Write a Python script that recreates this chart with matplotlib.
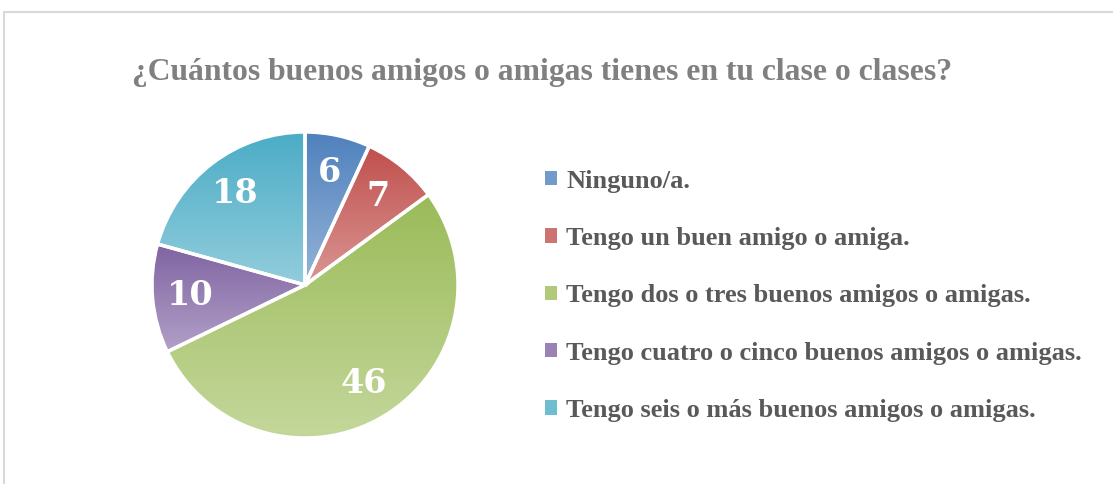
import numpy as np
import matplotlib
matplotlib.use('Agg')
import matplotlib.pyplot as plt
from matplotlib.patches import Patch, Rectangle
from matplotlib.colors import to_rgb

title = '¿Cuántos buenos amigos o amigas tienes en tu clase o clases?'
categories = ['Ninguno/a.',
              'Tengo un buen amigo o amiga.',
              'Tengo dos o tres buenos amigos o amigas.',
              'Tengo cuatro o cinco buenos amigos o amigas.',
              'Tengo seis o más buenos amigos o amigas.']
values = [6, 7, 46, 10, 18]

# gradient colours: top (dark) -> bottom (light)
top_colors = ['#4f81bd', '#c0504d', '#9bbb59', '#8064a2', '#4bacc6']
bottom_colors = ['#95b3d7', '#da9694', '#c4d79b', '#b1a0c7', '#92cddc']

fig = plt.figure(figsize=(11.13, 4.84), dpi=100)

# chart frame
fig.patches.append(Rectangle((4 / 1113, -0.1), 1.2, 1 - 12 / 484 + 0.1,
                             transform=fig.transFigure, fill=False,
                             edgecolor='#d9d9d9', linewidth=1.5))

fig.text(0.4874, 0.851, title, ha='center', va='center', fontsize=22.8,
         fontweight='bold', color='#808080', family='Liberation Serif')

r_px = 155
ax = fig.add_axes([(305 - r_px) / 1113, (199 - r_px) / 484, 2 * r_px / 1113, 2 * r_px / 484])
total = sum(values)
wedges, texts, autotexts = ax.pie(
    values, startangle=90, counterclock=False, radius=1,
    autopct=lambda p: f'{p * total / 100:.0f}', pctdistance=0.75,
    wedgeprops=dict(facecolor='none', edgecolor='white', linewidth=2.5, zorder=3),
    textprops=dict(color='white', fontsize=24, fontweight='bold', family='DejaVu Serif'))
for t in autotexts:
    t.set_zorder(5)

for w, c0, c1 in zip(wedges, top_colors, bottom_colors):
    verts = w.get_path().vertices
    x0, y0 = verts.min(axis=0)
    x1, y1 = verts.max(axis=0)
    a = np.array(to_rgb(c0))
    b = np.array(to_rgb(c1))
    t = np.linspace(0, 1, 64)[:, None]
    grad = (a * (1 - t) + b * t)[:, None, :]
    im = ax.imshow(grad, extent=[x0, x1, y0, y1], origin='upper',
                   aspect='auto', interpolation='bilinear', zorder=2)
    im.set_clip_path(w)

ax.set_xlim(-1.013, 1.013)
ax.set_ylim(-1.013, 1.013)
ax.set_aspect('equal')
ax.axis('off')

handles = [Patch(facecolor=(np.array(to_rgb(a)) + np.array(to_rgb(b))) / 2, edgecolor='none')
           for a, b in zip(top_colors, bottom_colors)]
fig.legend(handles, categories, loc='center left', bbox_to_anchor=(545 / 1113, 0.389),
           frameon=False, borderpad=0, borderaxespad=0, handlelength=0.45, handleheight=0.45,
           handletextpad=0.35, labelspacing=1.3,
           prop=dict(family='Liberation Serif', weight='bold', size=19), labelcolor='#595959')

fig.savefig('out.png', dpi=100)
